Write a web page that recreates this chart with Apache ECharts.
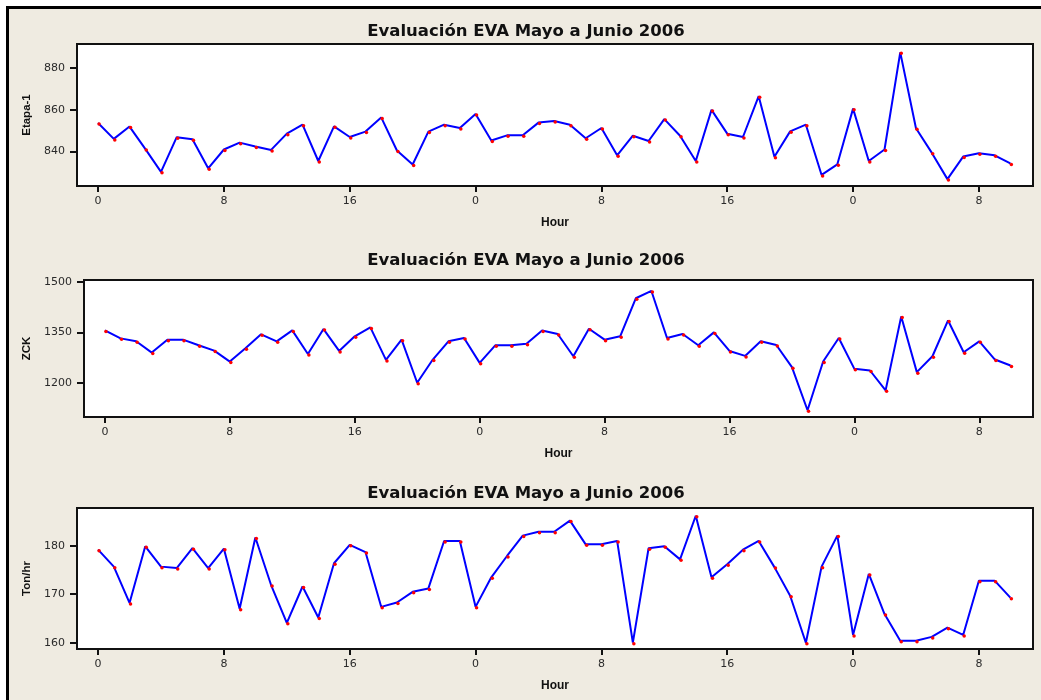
<!DOCTYPE html>
<html>
<head>
<meta charset="utf-8">
<script src="https://cdn.jsdelivr.net/npm/echarts@6/dist/echarts.min.js"></script>
<style>
  html, body { margin: 0; padding: 0; background: #ffffff; }
  #chart { width: 1041px; height: 700px; }
</style>
</head>
<body>
<div id="chart"></div>
<script>
// ---- data ----
const hours = [0,1,2,3,4,5,6,7,8,9,10,11,12,13,14,15,16,17,18,19,20,21,22,23,
               0,1,2,3,4,5,6,7,8,9,10,11,12,13,14,15,16,17,18,19,20,21,22,23,
               0,1,2,3,4,5,6,7,8,9,10];
const etapa1 = [853.7,846.1,852.0,841.3,830.3,846.9,845.9,832.0,841.0,844.3,842.4,840.8,848.6,852.9,835.5,852.1,847.0,849.6,856.4,840.5,833.8,849.6,852.9,851.3,
                858.0,845.3,847.8,847.8,853.9,854.7,852.9,846.4,851.3,838.2,847.6,845.1,855.6,847.6,835.5,860.0,848.6,847.0,866.6,837.5,849.7,852.9,828.8,833.9,
                860.6,835.5,841.0,887.6,851.2,839.5,826.8,837.6,839.2,838.2,834.3];
const zck = [1355.9,1332.2,1323.4,1289.8,1328.3,1328.3,1311.5,1295.7,1263.1,1302.6,1344.1,1323.4,1355.9,1285.8,1359.9,1294.7,1338.2,1364.8,1268.1,1328.3,1200.0,1269.1,1323.4,1333.2,
             1259.2,1311.5,1311.5,1316.4,1355.9,1345.1,1278.9,1360.9,1328.3,1338.2,1451.6,1473.4,1333.2,1345.1,1311.5,1350.0,1294.7,1279.9,1323.4,1312.5,1246.4,1118.1,1263.1,1333.2,
             1241.4,1236.5,1177.3,1397.4,1231.6,1278.9,1385.5,1290.8,1323.4,1269.1,1251.3];
const tonHr = [179.2,175.7,168.2,179.9,175.7,175.4,179.5,175.4,179.4,167.0,181.7,171.9,164.1,171.6,165.2,176.4,180.2,178.7,167.4,168.3,170.5,171.2,181.0,181.0,
               167.4,173.5,177.9,182.1,182.9,182.9,185.2,180.3,180.3,181.0,160.0,179.5,179.9,177.2,186.2,173.5,176.2,179.2,181.0,175.6,169.7,160.0,175.7,182.1,
               161.6,174.2,165.9,160.4,160.4,161.2,163.1,161.6,172.8,172.8,169.3];
const xTickIdx = [0,8,16,24,32,40,48,56];
const etapaTicks = [840,860,880];
const zckTicks = [1200,1350,1500];
const tonTicks = [160,170,180];
const titleText = 'Evaluación EVA Mayo a Junio 2006';
const yNames = ['Etapa-1','ZCK','Ton/hr'];
const xName = 'Hour';

// ---- chart ----
const chart = echarts.init(document.getElementById('chart'), null, {renderer: 'canvas'});
const toPts = arr => arr.map((v, i) => [i, v]);
const grids = [
  {left: 77, top: 44, width: 956, height: 142},
  {left: 84, top: 280, width: 949, height: 137},
  {left: 77, top: 508, width: 956, height: 141}
];
const yRanges = [[823.5, 891.6], [1098, 1506], [158.7, 187.8]];
const yTicks = [etapaTicks, zckTicks, tonTicks];
const yGaps = [44, 51, 44];
const titleTops = [23, 252, 485];
const series = [etapa1, zck, tonHr];

const labelFont = {fontFamily: 'DejaVu Sans', fontSize: 11, color: '#2a2a2a'};
const nameFont = {fontFamily: 'Liberation Sans', fontWeight: 'bold', fontSize: 11.5, color: '#111'};

const option = {
  backgroundColor: '#ffffff',
  animation: false,
  graphic: [{
    type: 'rect', z: -10, silent: true,
    shape: {x: 7.5, y: 7.5, width: 1100, height: 760},
    style: {fill: '#efebe1', stroke: '#000', lineWidth: 3}
  }],
  title: titleTops.map(t => ({
    text: titleText, left: 526, top: t, padding: 0, textAlign: 'center',
    textStyle: {fontFamily: 'DejaVu Sans', fontWeight: 'bold', fontSize: 16.5, color: '#111'}
  })),
  grid: grids.map(g => Object.assign({show: true, backgroundColor: '#ffffff', borderColor: '#111', borderWidth: 2, containLabel: false}, g)),
  xAxis: grids.map((g, k) => ({
    type: 'value', gridIndex: k, min: -1.34, max: 59.44,
    name: xName, nameLocation: 'middle', nameGap: 31,
    nameTextStyle: Object.assign({}, nameFont, {fontSize: 12, verticalAlign: 'top'}),
    axisLine: {show: true, onZero: false, lineStyle: {color: '#111', width: 2}},
    axisTick: {show: true, length: 6, lineStyle: {color: '#111', width: 2}, customValues: xTickIdx},
    axisLabel: Object.assign({margin: 10, customValues: xTickIdx, formatter: v => String(hours[v])}, labelFont),
    splitLine: {show: false}
  })),
  yAxis: grids.map((g, k) => ({
    type: 'value', gridIndex: k, min: yRanges[k][0], max: yRanges[k][1],
    name: yNames[k], nameLocation: 'middle', nameGap: yGaps[k], nameRotate: 90,
    nameTextStyle: nameFont,
    axisLine: {show: true, onZero: false, lineStyle: {color: '#111', width: 2}},
    axisTick: {show: true, length: 7, lineStyle: {color: '#111', width: 2}, customValues: yTicks[k]},
    axisLabel: Object.assign({margin: 12, customValues: yTicks[k], formatter: v => String(v)}, labelFont),
    splitLine: {show: false}
  })),
  series: series.map((arr, k) => ({
    type: 'line', xAxisIndex: k, yAxisIndex: k, data: toPts(arr),
    lineStyle: {color: '#0000ff', width: 2},
    itemStyle: {color: '#ff0000'},
    symbol: 'circle', symbolSize: 3.5, symbolOffset: [1, 1],
    showSymbol: true
  }))
};
chart.setOption(option);
</script>
</body>
</html>
